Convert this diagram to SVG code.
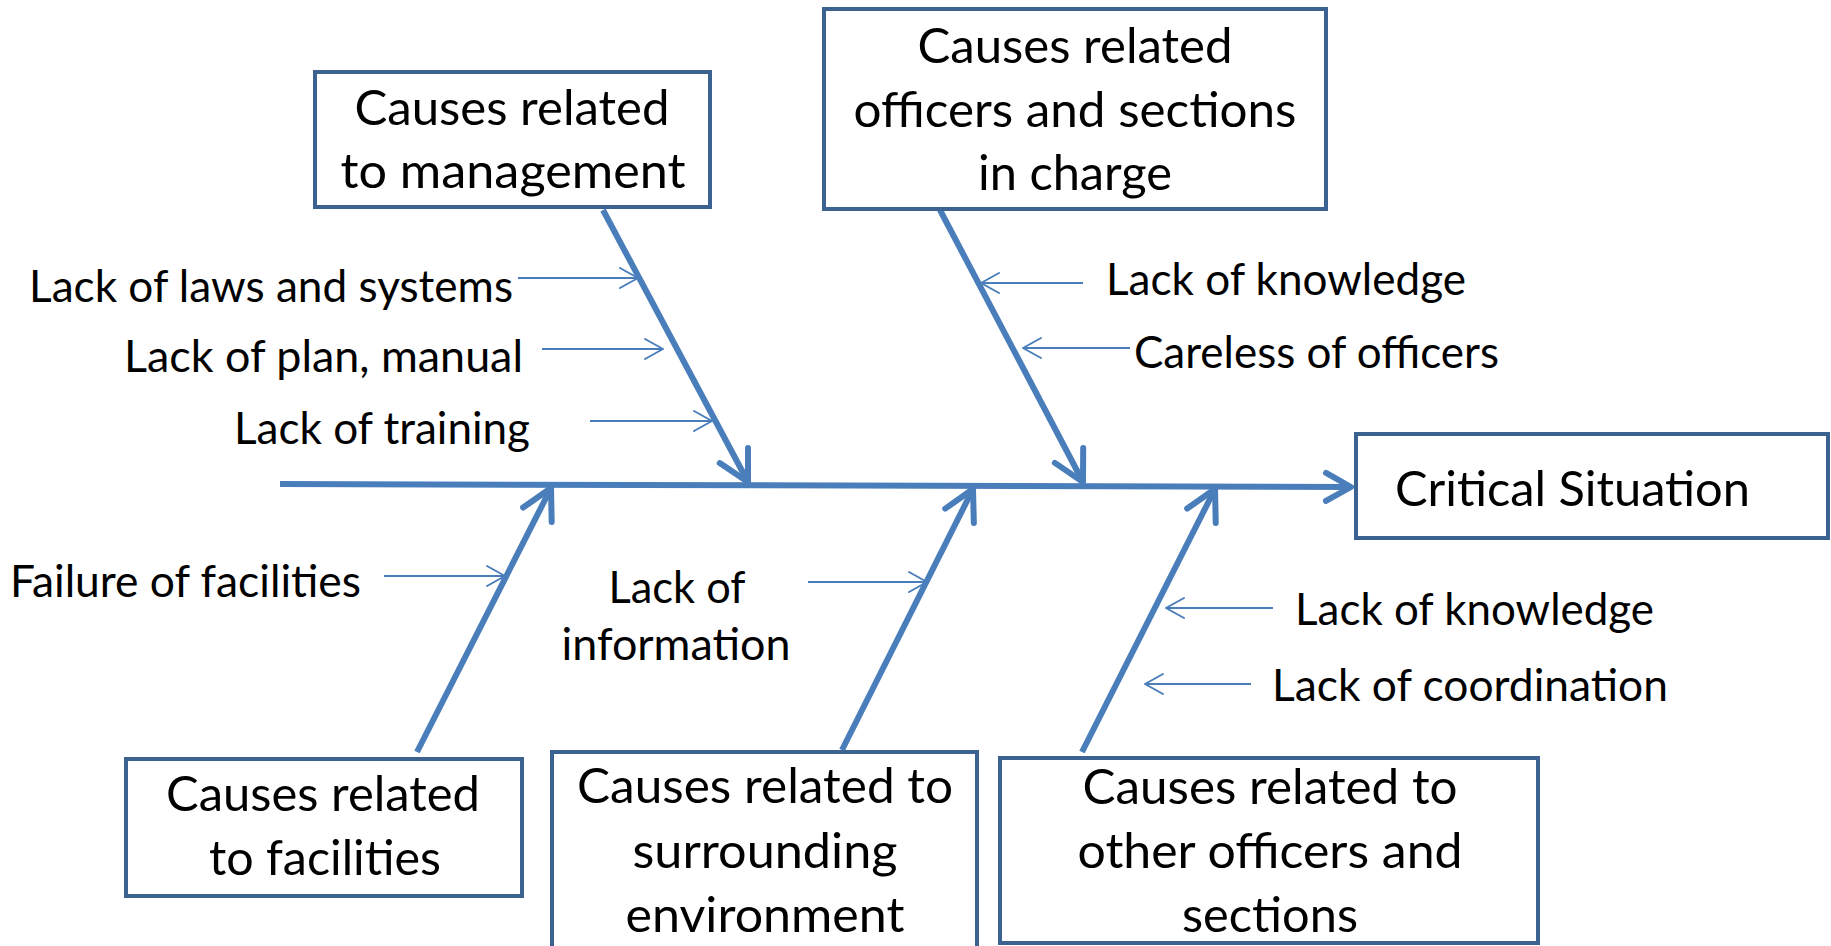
<svg xmlns="http://www.w3.org/2000/svg" width="1831" height="946" viewBox="0 0 1831 946">
  <defs>
    <style>
      .box { fill: #ffffff; stroke: #3b6290; stroke-width: 4; }
      .bone { fill: none; stroke: #4a7ebb; stroke-width: 6; }
      .rib { fill: none; stroke: #4a7ebb; stroke-width: 2; }
      .title { font-family: Lato, "Liberation Sans", sans-serif; font-size: 48px; fill: #000000; text-anchor: middle; }
      .label { font-family: Lato, "Liberation Sans", sans-serif; font-size: 44px; fill: #000000; }
      .mid { text-anchor: middle; }
    </style>
    <!-- heavy open chevron for the branch bones -->
    <marker id="boneHead" markerUnits="userSpaceOnUse" viewBox="-40 -25 50 50" markerWidth="50" markerHeight="50" refX="0" refY="0" orient="auto">
      <path d="M -30 -16 L 0 0 L -30 16" fill="none" stroke="#4a7ebb" stroke-width="6" stroke-linecap="round" stroke-linejoin="round"/>
    </marker>
    <!-- open chevron on the spine -->
    <marker id="spineHead" markerUnits="userSpaceOnUse" viewBox="-40 -25 50 50" markerWidth="50" markerHeight="50" refX="0" refY="0" orient="auto">
      <path d="M -25 -14 L 0 0 L -25 14" fill="none" stroke="#4a7ebb" stroke-width="6" stroke-linecap="round" stroke-linejoin="round"/>
    </marker>
    <!-- thin open chevron for the cause ribs -->
    <marker id="ribHead" markerUnits="userSpaceOnUse" viewBox="-30 -15 40 30" markerWidth="40" markerHeight="30" refX="0" refY="0" orient="auto">
      <path d="M -18 -10 L 0 0 L -18 10" fill="none" stroke="#4a7ebb" stroke-width="2" stroke-linecap="round" stroke-linejoin="round"/>
    </marker>
  </defs>

  <rect width="1831" height="946" fill="#ffffff"/>

  <!-- connectors: spine, bones and ribs -->
  <g id="connectors">
    <line class="bone" x1="280" y1="484" x2="1351" y2="487" marker-end="url(#spineHead)"/>

    <line class="bone" x1="603" y1="210" x2="748" y2="482" marker-end="url(#boneHead)"/>
    <line class="bone" x1="940" y1="210" x2="1083" y2="482" marker-end="url(#boneHead)"/>
    <line class="bone" x1="417" y1="752" x2="551" y2="488" marker-end="url(#boneHead)"/>
    <line class="bone" x1="842" y1="750" x2="973" y2="489" marker-end="url(#boneHead)"/>
    <line class="bone" x1="1082" y1="752" x2="1215" y2="489" marker-end="url(#boneHead)"/>

    <line class="rib" x1="518" y1="278" x2="638" y2="278" marker-end="url(#ribHead)"/>
    <line class="rib" x1="542" y1="349" x2="663" y2="349" marker-end="url(#ribHead)"/>
    <line class="rib" x1="590" y1="421" x2="712" y2="421" marker-end="url(#ribHead)"/>
    <line class="rib" x1="1083" y1="283" x2="981" y2="283" marker-end="url(#ribHead)"/>
    <line class="rib" x1="1130" y1="348" x2="1023" y2="348" marker-end="url(#ribHead)"/>
    <line class="rib" x1="384" y1="576" x2="505" y2="576" marker-end="url(#ribHead)"/>
    <line class="rib" x1="808" y1="582" x2="927" y2="582" marker-end="url(#ribHead)"/>
    <line class="rib" x1="1273" y1="608" x2="1166" y2="608" marker-end="url(#ribHead)"/>
    <line class="rib" x1="1251" y1="684" x2="1145" y2="684" marker-end="url(#ribHead)"/>
  </g>

  <!-- category boxes -->
  <g id="management">
    <rect class="box" x="315" y="72" width="395" height="135"/>
    <text class="title" x="512" y="125" textLength="315" lengthAdjust="spacingAndGlyphs">Causes related</text>
    <text class="title" x="513" y="188" textLength="345" lengthAdjust="spacingAndGlyphs">to management</text>
  </g>

  <g id="officers-in-charge">
    <rect class="box" x="824" y="9" width="502" height="200"/>
    <text class="title" x="1075" y="63" textLength="315" lengthAdjust="spacingAndGlyphs">Causes related</text>
    <text class="title" x="1075" y="127" textLength="443" lengthAdjust="spacingAndGlyphs">officers and sections</text>
    <text class="title" x="1075" y="190" textLength="194" lengthAdjust="spacingAndGlyphs">in charge</text>
  </g>

  <g id="critical-situation">
    <rect class="box" x="1356" y="434" width="472" height="104"/>
    <text class="title" x="1395" y="506" style="text-anchor:start" textLength="355" lengthAdjust="spacingAndGlyphs">Critical Situation</text>
  </g>

  <g id="facilities">
    <rect class="box" x="126" y="759" width="396" height="137"/>
    <text class="title" x="323" y="811" textLength="314" lengthAdjust="spacingAndGlyphs">Causes related</text>
    <text class="title" x="325" y="875" textLength="232" lengthAdjust="spacingAndGlyphs">to facilities</text>
  </g>

  <g id="environment">
    <rect class="box" x="552" y="752" width="425" height="198"/>
    <text class="title" x="765" y="803" textLength="376" lengthAdjust="spacingAndGlyphs">Causes related to</text>
    <text class="title" x="765" y="868" textLength="265" lengthAdjust="spacingAndGlyphs">surrounding</text>
    <text class="title" x="765" y="932" textLength="279" lengthAdjust="spacingAndGlyphs">environment</text>
  </g>

  <g id="other-officers">
    <rect class="box" x="1000" y="758" width="538" height="185"/>
    <text class="title" x="1270" y="804" textLength="375" lengthAdjust="spacingAndGlyphs">Causes related to</text>
    <text class="title" x="1270" y="868" textLength="385" lengthAdjust="spacingAndGlyphs">other officers and</text>
    <text class="title" x="1270" y="932" textLength="176" lengthAdjust="spacingAndGlyphs">sections</text>
  </g>

  <!-- cause labels -->
  <g id="cause-labels">
    <text class="label" x="29" y="302" textLength="484" lengthAdjust="spacingAndGlyphs">Lack of laws and systems</text>
    <text class="label" x="124" y="372" textLength="399" lengthAdjust="spacingAndGlyphs">Lack of plan, manual</text>
    <text class="label" x="234" y="444" textLength="296" lengthAdjust="spacingAndGlyphs">Lack of training</text>
    <text class="label" x="1106" y="295" textLength="360" lengthAdjust="spacingAndGlyphs">Lack of knowledge</text>
    <text class="label" x="1134" y="368" textLength="365" lengthAdjust="spacingAndGlyphs">Careless of officers</text>
    <text class="label" x="10" y="597" textLength="351" lengthAdjust="spacingAndGlyphs">Failure of facilities</text>
    <text class="label mid" x="677" y="603" textLength="137" lengthAdjust="spacingAndGlyphs">Lack of</text>
    <text class="label mid" x="676" y="660" textLength="229" lengthAdjust="spacingAndGlyphs">information</text>
    <text class="label" x="1295" y="625" textLength="359" lengthAdjust="spacingAndGlyphs">Lack of knowledge</text>
    <text class="label" x="1272" y="701" textLength="396" lengthAdjust="spacingAndGlyphs">Lack of coordination</text>
  </g>
</svg>
